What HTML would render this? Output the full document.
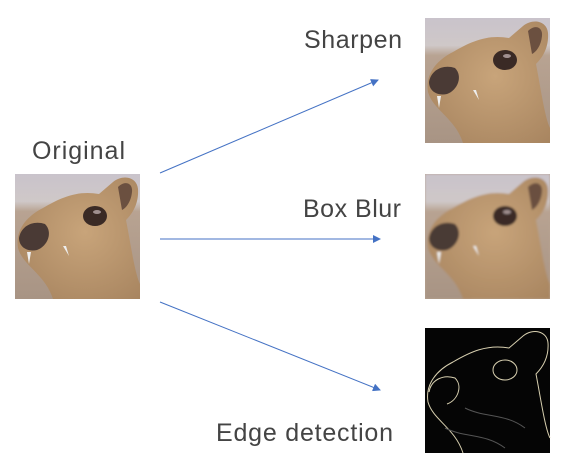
<!DOCTYPE html>
<html><head><meta charset="utf-8"><style>
body{margin:0;background:#fff;width:562px;height:468px;overflow:hidden;font-family:"Liberation Sans",sans-serif}
</style></head><body>
<svg width="562" height="468" viewBox="0 0 562 468">
<defs>
<linearGradient id="bg" x1="0" y1="0" x2="0" y2="1">
<stop offset="0" stop-color="#c9c3cb"/><stop offset="0.22" stop-color="#cfc8c8"/><stop offset="0.3" stop-color="#b8a392"/><stop offset="1" stop-color="#a89484"/>
</linearGradient>
<radialGradient id="fur" cx="0.55" cy="0.45" r="0.7">
<stop offset="0" stop-color="#c8a47a"/><stop offset="1" stop-color="#a88560"/>
</radialGradient>
<filter id="blur" x="-10%" y="-10%" width="120%" height="120%"><feGaussianBlur stdDeviation="1" edgeMode="duplicate"/></filter>
<clipPath id="bclip"><rect x="425" y="174" width="125" height="125"/></clipPath>
<g id="animal">
<rect width="125" height="125" fill="url(#bg)"/>
<path d="M38,125 C30,100 8,92 3,74 C0,56 12,42 28,34 C45,24 62,16 84,20 L98,8 C108,0 122,3 123,15 C124,30 117,40 111,46 C116,72 120,100 125,110 L125,125 Z" fill="url(#fur)"/>
<path d="M103,13 C110,6 118,9 117,18 C116,28 111,34 107,36 Z" fill="#6b5040"/>
<ellipse cx="80" cy="42" rx="12" ry="10" fill="#3a2a25"/>
<ellipse cx="82" cy="38" rx="4" ry="2" fill="#a09090"/>
<path d="M4,64 C6,52 18,46 30,50 C38,58 33,72 22,76 C12,78 4,73 4,64 Z" fill="#4a3a35"/>
<path d="M12,78 L14,90 L16,78 Z M48,72 L54,82 L51,72 Z" fill="#eee"/>
</g>
<g id="edge">
<rect width="125" height="125" fill="#050505"/>
<g fill="none" stroke="#d8d0b0" stroke-width="1">
<path d="M38,125 C30,100 8,92 3,74 C0,56 12,42 28,34 C45,24 62,16 84,20 L98,8 C108,0 122,3 123,15 C124,30 117,40 111,46 C116,72 120,100 125,110"/>
<ellipse cx="80" cy="42" rx="12" ry="10"/>
<path d="M4,64 C6,52 18,46 30,50 C38,58 33,72 22,76"/>
<path d="M40,80 C60,90 80,85 100,100 M20,100 C40,110 60,105 80,120" stroke="#555"/>
</g>
</g>
<marker id="ah" markerWidth="8" markerHeight="8" refX="7" refY="4" orient="auto" markerUnits="userSpaceOnUse"><path d="M0,0 L8,4 L0,8 Z" fill="#4472c4"/></marker>
</defs>
<use href="#animal" x="15" y="174"/>
<use href="#animal" x="425" y="18"/>
<g clip-path="url(#bclip)"><rect x="425" y="174" width="125" height="125" fill="#b8a392"/><use href="#animal" x="425" y="174" filter="url(#blur)"/></g>
<use href="#edge" x="425" y="328"/>
<g stroke="#4472c4" stroke-width="1" marker-end="url(#ah)">
<line x1="160" y1="173" x2="378" y2="80"/>
<line x1="160" y1="239" x2="380" y2="239"/>
<line x1="160" y1="302" x2="380" y2="390"/>
</g>
<g font-size="25" fill="#444" font-family="Liberation Sans, sans-serif">
<text x="32" y="159" textLength="93" lengthAdjust="spacing">Original</text>
<text x="304" y="48" textLength="98" lengthAdjust="spacing">Sharpen</text>
<text x="303" y="217" textLength="98" lengthAdjust="spacing">Box Blur</text>
<text x="216" y="441" textLength="177" lengthAdjust="spacing">Edge detection</text>
</g>
</svg>
</body></html>
